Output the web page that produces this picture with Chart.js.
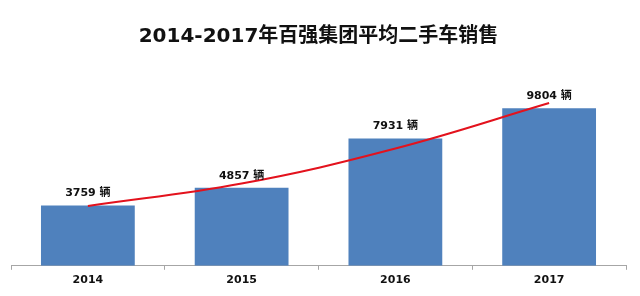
<!DOCTYPE html>
<html>
<head>
<meta charset="utf-8">
<script src="https://cdn.jsdelivr.net/npm/chart.js@4/dist/chart.umd.min.js"></script>
<style>
  html, body { margin: 0; padding: 0; background: #ffffff; }
  #wrap { width: 640px; height: 296px; }
</style>
</head>
<body>
<div id="wrap"><canvas id="c" width="640" height="296"></canvas></div>
<script>
const titleText = '2014-2017年百强集团平均二手车销售';
const categories = ['2014', '2015', '2016', '2017'];
const salesValues = [3759, 4857, 7931, 9804];
const trendValues = [3720, 5120, 7300, 10130];
const unitLabel = '辆';

const labelFont = "'DejaVu Sans', 'Noto Sans CJK SC', sans-serif";

const barLabels = {
  id: 'barLabels',
  afterDatasetsDraw(chart) {
    const meta = chart.getDatasetMeta(1);
    const ctx = chart.ctx;
    ctx.save();
    ctx.font = 'bold 11px ' + labelFont;
    ctx.fillStyle = '#111111';
    ctx.textAlign = 'center';
    ctx.textBaseline = 'middle';
    meta.data.forEach((bar, i) => {
      ctx.fillText(salesValues[i] + ' ' + unitLabel, bar.x, bar.y - 12);
    });
    ctx.restore();
  }
};

new Chart(document.getElementById('c'), {
  data: {
    labels: categories,
    datasets: [
      {
        type: 'line',
        data: trendValues,
        borderColor: '#E3121D',
        borderWidth: 2,
        pointRadius: 0,
        tension: 0.4,
        fill: false,
        order: 0
      },
      {
        type: 'bar',
        data: salesValues,
        backgroundColor: '#4F81BD',
        borderWidth: 0,
        barPercentage: 0.61,
        categoryPercentage: 1.0,
        order: 1
      }
    ]
  },
  options: {
    responsive: false,
    animation: false,
    layout: { padding: { left: 11, right: 14, top: 0, bottom: 5 } },
    plugins: {
      legend: { display: false },
      tooltip: { enabled: false },
      title: {
        display: true,
        text: titleText,
        color: '#111111',
        font: { family: labelFont, size: 20, weight: 'bold' },
        padding: { top: 25, bottom: 24 }
      }
    },
    scales: {
      x: {
        offset: true,
        grid: { display: true, drawOnChartArea: false, tickLength: 4, color: '#A6A6A6', offset: true },
        border: { display: true, color: '#A6A6A6', width: 1 },
        ticks: { color: '#111111', font: { family: labelFont, size: 11, weight: 'bold' }, padding: 4 }
      },
      y: {
        display: false,
        min: 0,
        max: 12000
      }
    }
  },
  plugins: [barLabels]
});
</script>
</body>
</html>
